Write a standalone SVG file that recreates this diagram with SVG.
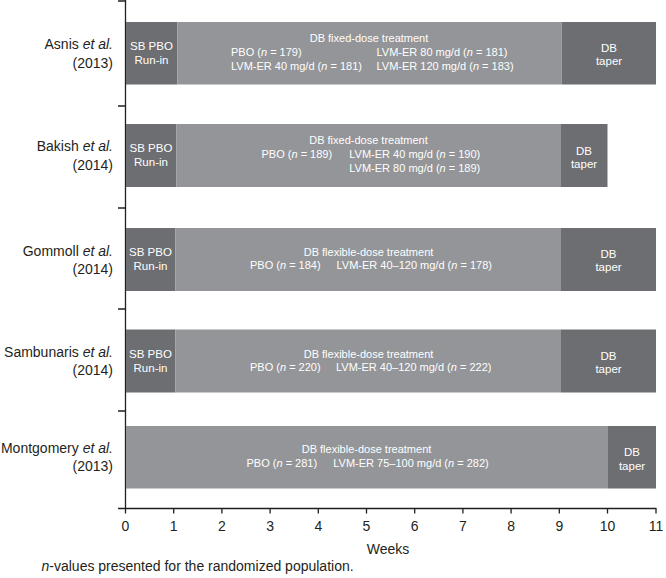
<svg xmlns="http://www.w3.org/2000/svg" width="666" height="578" viewBox="0 0 666 578">
<style>
text{font-family:"Liberation Sans",Arial,sans-serif;}
.dk{fill:#6d6e71;}
.lt{fill:#939598;}
.bt{fill:#ffffff;font-size:11px;}
.bs{fill:#ffffff;font-size:11.5px;text-anchor:middle;}
.m{text-anchor:middle;}
.lab{fill:#231f20;font-size:14px;text-anchor:end;}
.ax{fill:#231f20;font-size:14px;text-anchor:middle;}
.line{stroke:#231f20;stroke-width:1.3;fill:none;}
</style>
<rect width="666" height="578" fill="#ffffff"/>

<g id="axes">
<path class="line" d="M125.5 0V508.5M118 508.5H656.5"/>
<path class="line" d="M118 1H125.5M118 106H125.5M118 208H125.5M118 309H125.5M118 411H125.5"/>
<path class="line" d="M125.5 508.5v5M173.7 508.5v5M221.9 508.5v5M270.1 508.5v5M318.3 508.5v5M366.5 508.5v5M414.7 508.5v5M462.9 508.5v5M511.1 508.5v5M559.3 508.5v5M607.5 508.5v5M656 508.5v5"/>
<text class="ax" x="125.5" y="531">0</text>
<text class="ax" x="173.7" y="531">1</text>
<text class="ax" x="221.9" y="531">2</text>
<text class="ax" x="270.1" y="531">3</text>
<text class="ax" x="318.3" y="531">4</text>
<text class="ax" x="366.5" y="531">5</text>
<text class="ax" x="414.7" y="531">6</text>
<text class="ax" x="462.9" y="531">7</text>
<text class="ax" x="511.1" y="531">8</text>
<text class="ax" x="559.3" y="531">9</text>
<text class="ax" x="607.5" y="531">10</text>
<text class="ax" x="656" y="531">11</text>
<text class="ax" x="388" y="554">Weeks</text>
</g>

<g id="row-asnis">
<text class="lab" x="113" y="49">Asnis <tspan font-style="italic">et al.</tspan></text>
<text class="lab" x="113" y="67.5">(2013)</text>
<rect class="dk" x="126" y="22" width="51.5" height="62.5"/>
<rect class="lt" x="177.5" y="22" width="384" height="62.5"/>
<rect class="dk" x="561.5" y="22" width="94.5" height="62.5"/>
<text class="bs" x="151.5" y="50">SB PBO</text>
<text class="bs" x="151.5" y="64">Run-in</text>
<text class="bt m" x="369" y="42">DB fixed-dose treatment</text>
<text class="bt" x="231" y="56">PBO (<tspan font-style="italic">n</tspan> = 179)</text>
<text class="bt" x="231" y="70">LVM-ER 40 mg/d (<tspan font-style="italic">n</tspan> = 181)</text>
<text class="bt" x="376.5" y="56">LVM-ER 80 mg/d (<tspan font-style="italic">n</tspan> = 181)</text>
<text class="bt" x="376.5" y="70">LVM-ER 120 mg/d (<tspan font-style="italic">n</tspan> = 183)</text>
<text class="bs" x="609" y="52">DB</text>
<text class="bs" x="609" y="65">taper</text>
</g>

<g id="row-bakish">
<text class="lab" x="113" y="151">Bakish <tspan font-style="italic">et al.</tspan></text>
<text class="lab" x="113" y="169.5">(2014)</text>
<rect class="dk" x="126" y="124" width="50.5" height="63"/>
<rect class="lt" x="176.5" y="124" width="384.5" height="63"/>
<rect class="dk" x="561" y="124" width="46.5" height="63"/>
<text class="bs" x="151" y="152">SB PBO</text>
<text class="bs" x="151" y="166">Run-in</text>
<text class="bt m" x="368.5" y="144">DB fixed-dose treatment</text>
<text class="bt" x="261.5" y="158">PBO (<tspan font-style="italic">n</tspan> = 189)</text>
<text class="bt" x="349.3" y="158">LVM-ER 40 mg/d (<tspan font-style="italic">n</tspan> = 190)</text>
<text class="bt" x="349.3" y="172">LVM-ER 80 mg/d (<tspan font-style="italic">n</tspan> = 189)</text>
<text class="bs" x="584" y="155">DB</text>
<text class="bs" x="584" y="168">taper</text>
</g>

<g id="row-gommoll">
<text class="lab" x="113" y="255.5">Gommoll <tspan font-style="italic">et al.</tspan></text>
<text class="lab" x="113" y="273.5">(2014)</text>
<rect class="dk" x="126" y="228" width="49.5" height="63"/>
<rect class="lt" x="175.5" y="228" width="385.5" height="63"/>
<rect class="dk" x="561" y="228" width="95" height="63"/>
<text class="bs" x="150.5" y="256">SB PBO</text>
<text class="bs" x="150.5" y="270">Run-in</text>
<text class="bt m" x="368.5" y="256">DB flexible-dose treatment</text>
<text class="bt" x="250" y="269">PBO (<tspan font-style="italic">n</tspan> = 184)</text>
<text class="bt" x="336.5" y="269">LVM-ER 40–120 mg/d (<tspan font-style="italic">n</tspan> = 178)</text>
<text class="bs" x="608.5" y="258">DB</text>
<text class="bs" x="608.5" y="271">taper</text>
</g>

<g id="row-sambunaris">
<text class="lab" x="113" y="357">Sambunaris <tspan font-style="italic">et al.</tspan></text>
<text class="lab" x="113" y="375">(2014)</text>
<rect class="dk" x="126" y="329.5" width="49.5" height="63"/>
<rect class="lt" x="175.5" y="329.5" width="385.5" height="63"/>
<rect class="dk" x="561" y="329.5" width="95" height="63"/>
<text class="bs" x="150.5" y="357.5">SB PBO</text>
<text class="bs" x="150.5" y="371.5">Run-in</text>
<text class="bt m" x="368.5" y="357.5">DB flexible-dose treatment</text>
<text class="bt" x="250" y="370.5">PBO (<tspan font-style="italic">n</tspan> = 220)</text>
<text class="bt" x="336" y="370.5">LVM-ER 40–120 mg/d (<tspan font-style="italic">n</tspan> = 222)</text>
<text class="bs" x="608.5" y="359.5">DB</text>
<text class="bs" x="608.5" y="372.5">taper</text>
</g>

<g id="row-montgomery">
<text class="lab" x="113" y="452.5">Montgomery <tspan font-style="italic">et al.</tspan></text>
<text class="lab" x="113" y="470.5">(2013)</text>
<rect class="lt" x="126" y="426" width="482" height="62.5"/>
<rect class="dk" x="608" y="426" width="48" height="62.5"/>
<text class="bt m" x="366.5" y="453">DB flexible-dose treatment</text>
<text class="bt" x="246.5" y="467">PBO (<tspan font-style="italic">n</tspan> = 281)</text>
<text class="bt" x="333.3" y="467">LVM-ER 75–100 mg/d (<tspan font-style="italic">n</tspan> = 282)</text>
<text class="bs" x="632" y="456">DB</text>
<text class="bs" x="632" y="469.5">taper</text>
</g>

<text x="41.5" y="571" fill="#231f20" font-size="14"><tspan font-style="italic">n</tspan>-values presented for the randomized population.</text>
</svg>
